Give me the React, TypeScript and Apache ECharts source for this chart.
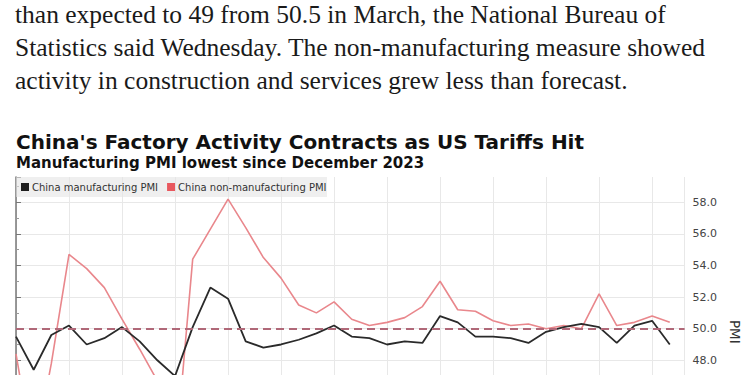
import React, { useEffect, useRef } from "react";
import * as echarts from "echarts";

const paragraphLines = [
  "than expected to 49 from 50.5 in March, the National Bureau of",
  "Statistics said Wednesday. The non-manufacturing measure showed",
  "activity in construction and services grew less than forecast.",
];
const chartTitle = "China's Factory Activity Contracts as US Tariffs Hit";
const chartSubtitle = "Manufacturing PMI lowest since December 2023";

const months = [
  "Mar 2022", "Apr 2022", "May 2022", "Jun 2022", "Jul 2022", "Aug 2022", "Sep 2022", "Oct 2022", "Nov 2022", "Dec 2022",
  "Jan 2023", "Feb 2023", "Mar 2023", "Apr 2023", "May 2023", "Jun 2023", "Jul 2023", "Aug 2023", "Sep 2023", "Oct 2023", "Nov 2023", "Dec 2023",
  "Jan 2024", "Feb 2024", "Mar 2024", "Apr 2024", "May 2024", "Jun 2024", "Jul 2024", "Aug 2024", "Sep 2024", "Oct 2024", "Nov 2024", "Dec 2024",
  "Jan 2025", "Feb 2025", "Mar 2025", "Apr 2025",
];

const manufacturingPMI = [
  49.5, 47.4, 49.6, 50.2, 49.0, 49.4, 50.1, 49.2, 48.0, 47.0,
  50.1, 52.6, 51.9, 49.2, 48.8, 49.0, 49.3, 49.7, 50.2, 49.5, 49.4, 49.0,
  49.2, 49.1, 50.8, 50.4, 49.5, 49.5, 49.4, 49.1, 49.8, 50.1, 50.3, 50.1,
  49.1, 50.2, 50.5, 49.0,
];

const nonManufacturingPMI = [
  48.4, 41.9, 47.8, 54.7, 53.8, 52.6, 50.6, 48.7, 46.7, 41.6,
  54.4, 56.3, 58.2, 56.4, 54.5, 53.2, 51.5, 51.0, 51.7, 50.6, 50.2, 50.4,
  50.7, 51.4, 53.0, 51.2, 51.1, 50.5, 50.2, 50.3, 50.0, 50.2, 50.0, 52.2,
  50.2, 50.4, 50.8, 50.4,
];

const seriesNames = ["China manufacturing PMI", "China non-manufacturing PMI"];
const referenceLevel = 50;
const lowestVisibleLabel = 48;

export default function App() {
  const ref = useRef<HTMLDivElement>(null);

  useEffect(() => {
    if (!ref.current) return;
    const chart = echarts.init(ref.current, undefined, { renderer: "svg" });

    chart.setOption({
      animation: false,
      backgroundColor: "#ffffff",
      graphic: [
        ...paragraphLines.map((t, i) => ({
          type: "text",
          x: 15,
          y: 14.4 + i * 33.2,
          style: {
            text: t,
            font: '25.5px "Liberation Serif"',
            lineHeight: 24,
            fill: "#1a1a1a",
            verticalAlign: "middle",
          },
        })),
        {
          type: "text",
          x: 16,
          y: 141.8,
          style: {
            text: chartTitle,
            font: 'bold 20px "DejaVu Sans"',
            lineHeight: 20,
            fill: "#111",
            verticalAlign: "middle",
          },
        },
        {
          type: "text",
          x: 16,
          y: 162.8,
          style: {
            text: chartSubtitle,
            font: 'bold 15px "DejaVu Sans"',
            lineHeight: 15,
            fill: "#111",
            verticalAlign: "middle",
          },
        },
        {
          type: "rect",
          z: 1,
          shape: { x: 16, y: 177, width: 311, height: 20 },
          style: { fill: "rgba(228,228,228,0.6)" },
        },
      ],
      legend: {
        left: 21,
        top: 182,
        padding: 0,
        itemWidth: 8,
        itemHeight: 8,
        itemGap: 9,
        icon: "rect",
        z: 5,
        textStyle: { fontSize: 10, fontFamily: "DejaVu Sans", color: "#333", padding: [0, 0, 0, -2] },
        data: seriesNames,
      },
      grid: { left: 16, right: 65, top: 177, bottom: 33.3 },
      xAxis: {
        type: "value",
        min: 0,
        max: 37.84,
        interval: 3,
        axisLine: { show: true, lineStyle: { color: "#777" } },
        axisTick: { show: false },
        axisLabel: { show: false },
        splitLine: { show: true, lineStyle: { color: "#e8e8e8", width: 1 } },
      },
      yAxis: {
        type: "value",
        position: "right",
        min: 40,
        max: 59.6,
        interval: 2,
        name: "PMI",
        nameLocation: "middle",
        nameRotate: -90,
        nameGap: 38,
        nameTextStyle: { fontSize: 13.5, fontFamily: "DejaVu Sans", color: "#333" },
        axisLine: { show: true, lineStyle: { color: "#777", width: 1.5 } },
        axisTick: { show: true, length: 5, lineStyle: { color: "#777" } },
        minorTick: { show: true, splitNumber: 2, length: 3, lineStyle: { color: "#999" } },
        axisLabel: {
          color: "#444",
          fontSize: 11,
          fontFamily: "DejaVu Sans",
          margin: 8,
          showMaxLabel: false,
          formatter: (v: number) =>
            Math.abs(v - Math.round(v)) < 1e-6 && Math.round(v) % 2 === 0 && v >= lowestVisibleLabel
              ? v.toFixed(1)
              : "",
        },
        splitLine: { show: true, showMaxLine: false, lineStyle: { color: "#e8e8e8", width: 1 } },
      },
      series: [
        {
          name: seriesNames[0],
          type: "line",
          data: manufacturingPMI.map((v, i) => [i, v]),
          symbol: "none",
          color: "#1e1e1e",
          lineStyle: { width: 1.8, color: "#2a2a2a" },
          z: 4,
          markLine: {
            silent: true,
            symbol: ["none", "none"],
            label: { show: false },
            lineStyle: { color: "#b06878", type: [8, 5], width: 2 },
            data: [{ yAxis: referenceLevel }],
          },
        },
        {
          name: seriesNames[1],
          type: "line",
          data: nonManufacturingPMI.map((v, i) => [i, v]),
          symbol: "none",
          color: "#e8585e",
          lineStyle: { width: 1.6, color: "#e9878c" },
          z: 3,
        },
      ],
    });

    return () => chart.dispose();
  }, []);

  return (
    <div
      style={{
        position: "fixed",
        left: 0,
        top: 0,
        width: 750,
        height: 375,
        overflow: "hidden",
        background: "#fff",
      }}
    >
      <div ref={ref} style={{ width: 750, height: 520 }} />
    </div>
  );
}
